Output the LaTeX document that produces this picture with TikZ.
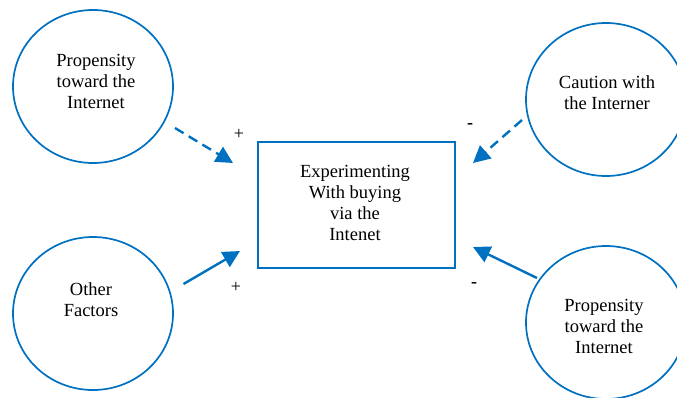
\documentclass[tikz,border=0pt]{standalone}
\usepackage{fontspec}
\setmainfont{Liberation Serif}
\usetikzlibrary{arrows.meta,shapes.geometric}
\definecolor{cblue}{HTML}{0070C0}
\begin{document}
\begin{tikzpicture}[x=1pt,y=-1pt,
  oval/.style={draw=cblue,line width=1.7pt,ellipse,minimum width=160pt,minimum height=153pt,inner sep=0pt},
  boxnode/.style={draw=cblue,line width=1.7pt,minimum width=197pt,minimum height=126pt,inner sep=0pt},
  lbl/.style={align=center,font=\fontsize{18.5}{21}\selectfont,text depth=0pt},
  sign/.style={font=\fontsize{18}{21}\selectfont,inner sep=0pt},
  arr/.style={draw=cblue,line width=2.4pt,-{Triangle[length=17pt,width=17pt]}},
  dsh/.style={arr,dash pattern=on 10pt off 6pt}]
\useasboundingbox (0,0) rectangle (677,397);
\clip (0,0) rectangle (677,397);
\node[oval] (o1) at (93,86.5) {};
\node[oval] (o2) at (93,313.5) {};
\node[oval] (o3) at (606,99.5) {};
\node[oval] (o4) at (606,322.5) {};
\node[boxnode] (b) at (356.5,205) {};
\node[lbl] (t1) at (96,81) {Propensity\\toward the\\Internet};
\node[lbl] (t2) at (91,300) {Other\\Factors};
\node[lbl] (t3) at (607,92.5) {Caution with\\the Interner};
\node[lbl] (t4) at (604,326) {Propensity\\toward the\\Internet};
\node[lbl] (tb) at (355,202.5) {Experimenting\\With buying\\via the\\Intenet};
\coordinate (a1s) at (175,128); \coordinate (a1e) at (233,163);
\coordinate (a2s) at (183.5,284); \coordinate (a2e) at (240,251);
\coordinate (a3s) at (522,120); \coordinate (a3e) at (473,163);
\coordinate (a4s) at (537,278); \coordinate (a4e) at (473,247);
\draw[dsh] (a1s) -- (a1e);
\draw[arr] (a2s) -- (a2e);
\draw[dsh] (a3s) -- (a3e);
\draw[arr] (a4s) -- (a4e);
\node[sign] (p1) at (239,134) {+};
\node[sign] (p2) at (236,287) {+};
\node[sign] (m1) at (470,126) {\textbf{-}};
\node[sign] (m2) at (474,285) {\textbf{-}};
\end{tikzpicture}
\end{document}
